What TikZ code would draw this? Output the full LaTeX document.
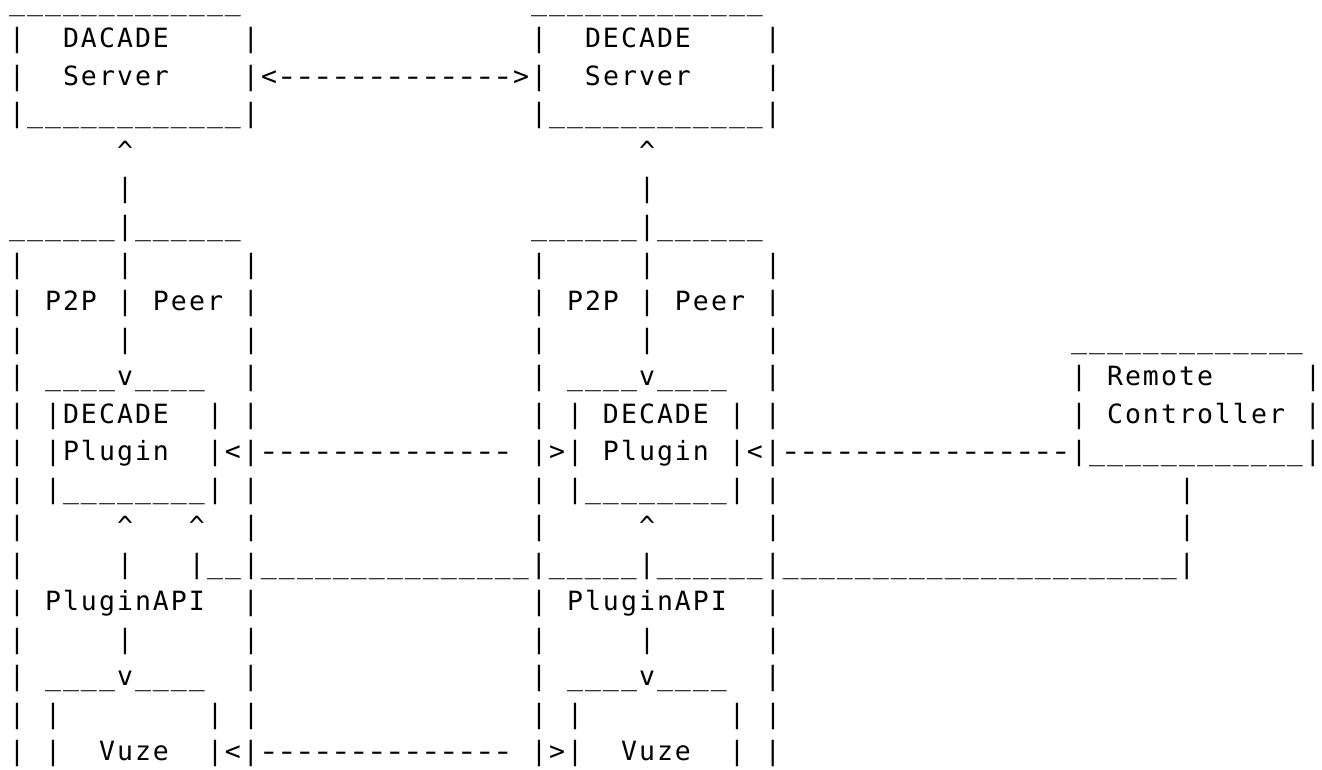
\documentclass[tikz,border=0pt]{standalone}
\usepackage{graphicx}
\usepackage{fontspec}
\newfontfamily\asciifont{DejaVu Sans Mono}
% one fixed 18pt cell per character: "." blank, "=" underscore, "*" caret
\def\Bf{.....}
\def\Uf{=====}
\def\Df{-----}
\def\asciichar#1{\ifx#1.\else\ifx#1=\textunderscore\else\ifx#1*\textasciicircum\else\ifx#1-\scalebox{1.35}[1]{-}\else#1\fi\fi\fi\fi}
\def\asciicell#1{\hbox to 18pt{\hss\asciichar#1\hss}}
\def\asciiloop#1{\ifx#1\relax\else\asciicell#1\expandafter\asciiloop\fi}
\newcommand\asciirow[1]{\edef\asciitmp{#1}\expandafter\asciiloop\asciitmp\relax}
\tikzset{
  asciirowstyle/.style={anchor=base west, inner sep=0pt, outer sep=0pt,
    font=\asciifont\fontsize{26.5}{30}\selectfont, text=black}
}
\begin{document}
\begin{tikzpicture}[x=1pt,y=1pt]
\useasboundingbox (0,0) rectangle (1322,-770);
\fill[white] (0,0) rectangle (1322,-770);
\node[asciirowstyle] (r0)  at (8,-10.5)  {\asciirow{\Uf\Uf===\Bf\Bf\Bf.\Uf\Uf===}};
\node[asciirowstyle] (r1)  at (8,-48)    {\asciirow{|..DACADE....|\Bf\Bf\Bf|..DECADE....|}};
\node[asciirowstyle] (r2)  at (8,-85.5)  {\asciirow{|..Server....|<\Df\Df--->|..Server....|}};
\node[asciirowstyle] (r3)  at (8,-123)   {\asciirow{|\Uf\Uf==|\Bf\Bf\Bf|\Uf\Uf==|}};
\node[asciirowstyle] (r4)  at (8,-160.5) {\asciirow{......*\Bf\Bf\Bf\Bf\Bf...*}};
\node[asciirowstyle] (r5)  at (8,-198)   {\asciirow{......|\Bf\Bf\Bf\Bf\Bf...|}};
\node[asciirowstyle] (r6)  at (8,-235.5) {\asciirow{======|======\Bf\Bf\Bf.======|======}};
\node[asciirowstyle] (r7)  at (8,-273)   {\asciirow{|.....|......|\Bf\Bf\Bf|.....|......|}};
\node[asciirowstyle] (r8)  at (8,-310.5) {\asciirow{|.P2P.|.Peer.|\Bf\Bf\Bf|.P2P.|.Peer.|}};
\node[asciirowstyle] (r9)  at (8,-348)   {\asciirow{|.....|......|\Bf\Bf\Bf|.....|......|\Bf\Bf\Bf.\Uf\Uf===}};
\node[asciirowstyle] (r10) at (8,-385.5) {\asciirow{|.====v====..|\Bf\Bf\Bf|.====v====..|\Bf\Bf\Bf.|.Remote.....|}};
\node[asciirowstyle] (r11) at (8,-423)   {\asciirow{|.|DECADE..|.|\Bf\Bf\Bf|.|.DECADE.|.|\Bf\Bf\Bf.|.Controller.|}};
\node[asciirowstyle] (r12) at (8,-460.5) {\asciirow{|.|Plugin..|<|\Df\Df----.|>|.Plugin.|<|\Df\Df\Df-|\Uf\Uf==|}};
\node[asciirowstyle] (r13) at (8,-498)   {\asciirow{|.|========|.|\Bf\Bf\Bf|.|========|.|\Bf\Bf\Bf\Bf..|}};
\node[asciirowstyle] (r14) at (8,-535.5) {\asciirow{|.....*...*..|\Bf\Bf\Bf|.....*......|\Bf\Bf\Bf\Bf..|}};
\node[asciirowstyle] (r15) at (8,-573)   {\asciirow{|.....|...|==|\Uf\Uf\Uf|=====|======|\Uf\Uf\Uf\Uf==|}};
\node[asciirowstyle] (r16) at (8,-610.5) {\asciirow{|.PluginAPI..|\Bf\Bf\Bf|.PluginAPI..|}};
\node[asciirowstyle] (r17) at (8,-648)   {\asciirow{|.....|......|\Bf\Bf\Bf|.....|......|}};
\node[asciirowstyle] (r18) at (8,-685.5) {\asciirow{|.====v====..|\Bf\Bf\Bf|.====v====..|}};
\node[asciirowstyle] (r19) at (8,-723)   {\asciirow{|.|........|.|\Bf\Bf\Bf|.|........|.|}};
\node[asciirowstyle] (r20) at (8,-760.5) {\asciirow{|.|..Vuze..|<|\Df\Df----.|>|..Vuze..|.|}};
\end{tikzpicture}
\end{document}
